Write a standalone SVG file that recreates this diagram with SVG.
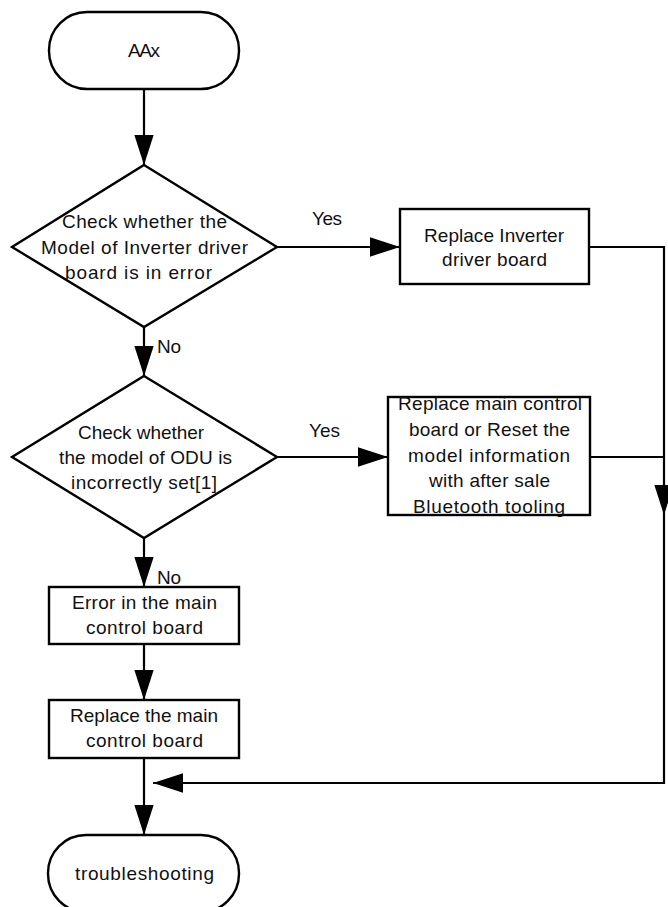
<svg xmlns="http://www.w3.org/2000/svg" width="668" height="907" viewBox="0 0 668 907">
  <defs>
    <marker id="arrow" markerUnits="userSpaceOnUse" markerWidth="30" markerHeight="20" viewBox="0 0 28 18" refX="28" refY="9" orient="auto">
      <path d="M0,0 L28,9 L0,18 Z" fill="#000"/>
    </marker>
    <style>
      .shape { fill: #fff; stroke: #000; stroke-width: 2.4; }
      .line { fill: none; stroke: #000; stroke-width: 2.2; }
      .arr { marker-end: url(#arrow); }
      text { font-family: "Liberation Sans", Arial, sans-serif; font-size: 19px; fill: #111; }
    </style>
  </defs>

  <!-- connectors -->
  <g id="connectors">
    <path class="line arr" d="M144,89 V165"/>
    <path class="line arr" d="M277,247 H400"/>
    <path class="line arr" d="M144,327 V376"/>
    <path class="line arr" d="M277,457 H388"/>
    <path class="line arr" d="M144,538 V587"/>
    <path class="line arr" d="M144,644 V700"/>
    <path class="line arr" d="M144,758 V835"/>
    <path class="line arr" d="M589,247 H664 V515"/>
    <path class="line" d="M590,457 H664"/>
    <path class="line arr" d="M664,515 V783 H153"/>
    <text x="312" y="225" textLength="30">Yes</text>
    <text x="309" y="437" textLength="31">Yes</text>
    <text x="157" y="353" textLength="24">No</text>
    <text x="157" y="584" textLength="24">No</text>
  </g>

  <g id="start">
    <rect class="shape" x="49" y="12" width="190" height="77" rx="38" ry="38"/>
    <text x="128" y="57" textLength="32">AAx</text>
  </g>

  <g id="check-inverter-model">
    <polygon class="shape" points="144,165 277,247 144,327 12,247"/>
    <text x="62" y="228" textLength="165">Check whether the</text>
    <text x="41" y="254" textLength="207">Model of Inverter driver</text>
    <text x="65" y="279" textLength="147">board is in error</text>
  </g>

  <g id="replace-inverter">
    <rect class="shape" x="400" y="209" width="189" height="75"/>
    <text x="424" y="242" textLength="140">Replace Inverter</text>
    <text x="442" y="266" textLength="105">driver board</text>
  </g>

  <g id="check-odu-model">
    <polygon class="shape" points="144,376 277,457 144,538 12,457"/>
    <text x="78" y="439" textLength="126">Check whether</text>
    <text x="59" y="464" textLength="173">the model of ODU is</text>
    <text x="71" y="489" textLength="146">incorrectly set[1]</text>
  </g>

  <g id="replace-or-reset">
    <rect class="shape" x="388" y="397" width="202" height="118"/>
    <text x="398" y="410" textLength="184">Replace main control</text>
    <text x="409" y="436" textLength="161">board or Reset the</text>
    <text x="408" y="462" textLength="162">model information</text>
    <text x="429" y="487" textLength="121">with after sale</text>
    <text x="413" y="513" textLength="152">Bluetooth tooling</text>
  </g>

  <g id="main-board-error">
    <rect class="shape" x="49" y="587" width="190" height="57"/>
    <text x="72" y="609" textLength="145">Error in the main</text>
    <text x="86" y="634" textLength="117">control board</text>
  </g>

  <g id="replace-main-board">
    <rect class="shape" x="49" y="700" width="190" height="58"/>
    <text x="70" y="722" textLength="148">Replace the main</text>
    <text x="86" y="747" textLength="117">control board</text>
  </g>

  <g id="end">
    <rect class="shape" x="48" y="835" width="191" height="77" rx="38" ry="38"/>
    <text x="75" y="880" textLength="139">troubleshooting</text>
  </g>
</svg>
